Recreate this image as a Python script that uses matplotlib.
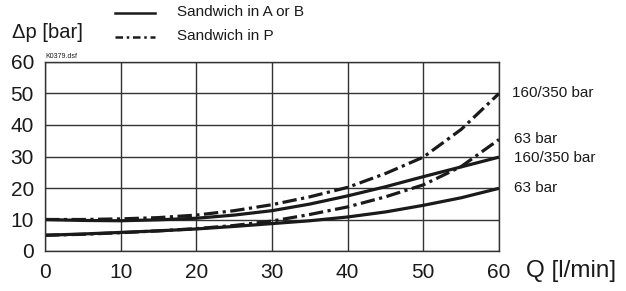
import numpy as np
import matplotlib.pyplot as plt

plt.rcParams['font.family'] = ['Liberation Sans', 'DejaVu Sans']

# flow Q [l/min]
q = [0, 5, 10, 15, 20, 25, 30, 35, 40, 45, 50, 55, 60]

# pressure drop [bar]
ab_160 = [10, 9.7, 9.6, 9.9, 10.4, 11.4, 12.8, 14.9, 17.5, 20.4, 23.6, 26.7, 29.8]
ab_63 = [5, 5.4, 5.9, 6.4, 7.0, 7.8, 8.7, 9.6, 10.8, 12.4, 14.5, 16.9, 19.9]
p_160 = [10, 10, 10.2, 10.6, 11.4, 12.8, 14.7, 17.2, 20.2, 24.6, 29.8, 38.6, 50]
p_63 = [5, 5.3, 5.8, 6.4, 7.1, 8.1, 9.5, 11.6, 14.0, 17.2, 21.0, 26.8, 35.4]

x_ticks = [0, 10, 20, 30, 40, 50, 60]
y_ticks = [0, 10, 20, 30, 40, 50, 60]

# right-hand curve labels and their heights
end_labels = ['160/350 bar', '63 bar', '160/350 bar', '63 bar']
end_label_y = [50, 35.5, 29.5, 20]
end_label_dx = [9.5, 11, 11, 11]

fig = plt.figure(figsize=(6.26, 2.91), dpi=100)
ax = fig.add_axes([45 / 626, 40 / 291, 454 / 626, 189 / 291])

dashdot = (0, (4.5, 1.4, 1, 1.4))
lw = 2.3
ax.plot(q, ab_160, color='#1a1a1a', lw=lw, solid_capstyle='butt')
ax.plot(q, ab_63, color='#1a1a1a', lw=lw, solid_capstyle='butt')
ax.plot(q, p_160, color='#1a1a1a', lw=lw, linestyle=dashdot)
ax.plot(q, p_63, color='#1a1a1a', lw=lw, linestyle=dashdot)

ax.set_xlim(0, 60)
ax.set_ylim(0, 60)
ax.set_xticks(x_ticks)
ax.set_yticks(y_ticks)
ax.grid(True, color='#333333', lw=1.0)
ax.tick_params(length=0, labelsize=15, colors='#1a1a1a')
ax.tick_params(axis='x', pad=9)
ax.tick_params(axis='y', pad=8)
for s in ax.spines.values():
    s.set_color('#333333')
    s.set_linewidth(1.0)

for lab, yv, dx in zip(end_labels, end_label_y, end_label_dx):
    ax.annotate(lab, xy=(60, yv), xytext=(dx, 0), textcoords='offset points',
                fontsize=11, va='center', ha='left', color='#1a1a1a',
                annotation_clip=False)

fig.text(12 / 626, 1 - 33 / 291, 'Δp [bar]', fontsize=14.5, va='center', ha='left', color='#1a1a1a')
fig.text(526 / 626, 1 - 271 / 291, 'Q [l/min]', fontsize=17.5, va='center', ha='left', color='#1a1a1a')
fig.text(45 / 626, 1 - 56 / 291, 'K0379.dsf', fontsize=5, va='center', ha='left', color='#1a1a1a')

# legend drawn by hand in figure coordinates
fig.lines.append(plt.Line2D([115 / 626, 155 / 626], [1 - 13 / 291, 1 - 13 / 291],
                            transform=fig.transFigure, color='#1a1a1a', lw=1.8))
fig.lines.append(plt.Line2D([115 / 626, 155 / 626], [1 - 37 / 291, 1 - 37 / 291],
                            transform=fig.transFigure, color='#1a1a1a', lw=1.8,
                            linestyle=(0, (3, 1.5, 1, 1.5))))
fig.text(177 / 626, 1 - 12 / 291, 'Sandwich in A or B', fontsize=11, va='center', ha='left', color='#1a1a1a')
fig.text(177 / 626, 1 - 36 / 291, 'Sandwich in P', fontsize=11, va='center', ha='left', color='#1a1a1a')

fig.savefig('out.png', dpi=100)
